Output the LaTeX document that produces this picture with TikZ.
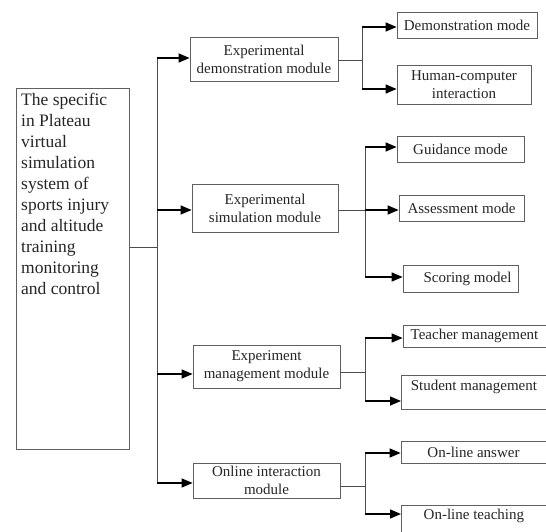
\documentclass[tikz,border=0pt]{standalone}
\usepackage{fontspec}
\setmainfont{Liberation Serif}
\usetikzlibrary{arrows.meta}
\begin{document}
\begin{tikzpicture}[x=1pt,y=-1pt,
  box/.style={draw=gray!75!black, line width=0.8pt, inner sep=0pt, align=center,
              font=\fontsize{15}{18}\selectfont, text=black!85},
  link/.style={draw=black!70, line width=0.9pt},
  arr/.style={draw=black, line width=1.5pt, -{Triangle[length=11pt,width=9pt]}}]
\useasboundingbox (0,0) rectangle (546,532);
\fill[white] (0,0) rectangle (546,532);

% root
\node[box, minimum width=113pt, minimum height=361pt, anchor=north west] (root) at (16,88) {};
\node[anchor=north west, inner sep=0pt, align=left, font=\fontsize{17.5}{21}\selectfont, text=black!85] (roottext) at (21,93)
  {The specific\\in Plateau\\virtual\\simulation\\system of\\sports injury\\and altitude\\training\\monitoring\\and control};

% modules
\node[box, minimum width=148pt, minimum height=44pt] (m1) at (264,59) {Experimental\\demonstration module};
\node[box, minimum width=146pt, minimum height=48pt] (m2) at (265,208) {Experimental\\simulation module};
\node[box, minimum width=147pt, minimum height=43pt] (m3) at (266.5,366.5) {Experiment\\management module};
\node[box, minimum width=147pt, minimum height=35pt] (m4) at (266.5,480.5) {Online interaction\\module};

% children
\node[box, minimum width=140pt, minimum height=26pt] (c1) at (467,25) {Demonstration mode};
\node[box, minimum width=134pt, minimum height=39pt] (c2) at (464,84.5) {Human-computer\\interaction};
\node[box, minimum width=127pt, minimum height=26pt] (c3) at (460.5,149) {Guidance mode};
\node[box, minimum width=125pt, minimum height=26pt] (c4) at (461.5,208) {Assessment mode};
\node[box, minimum width=115pt, minimum height=27pt] (c5) at (460.5,278.5) {\hspace*{14pt}Scoring model};
\node[box, minimum width=143pt, minimum height=22pt] (c6) at (474.5,336) {Teacher management};
\node[box, minimum width=145pt, minimum height=34pt, text height=15pt, text depth=19pt, anchor=north west] (c7) at (401,375) {Student management};
\node[box, minimum width=145pt, minimum height=22pt] (c8) at (473.5,452) {On-line answer};
\node[box, minimum width=145pt, minimum height=40pt, text height=14pt, text depth=26pt, anchor=north west] (c9) at (401,505) {On-line teaching};

% main trunk
\coordinate (j0) at (157,247);
\coordinate (t1) at (157,58);
\coordinate (t2) at (157,210);
\coordinate (t3) at (157,374);
\coordinate (t4) at (157,483);
\draw[link] (root.east |- j0) -- (j0);
\draw[link] (t1) -- (t4);
\draw[arr] (t1) -- (t1 -| m1.west);
\draw[arr] (t2) -- (t2 -| m2.west);
\draw[arr] (t3) -- (t3 -| m3.west);
\draw[arr] (t4) -- (t4 -| m4.west);

% branch 1
\coordinate (b1) at (362,60);
\coordinate (b1a) at (362,27);
\coordinate (b1b) at (362,89);
\draw[link] (m1.east |- b1) -- (b1);
\draw[link] (b1a) -- (b1b);
\draw[arr] (b1a) -- (b1a -| c1.west);
\draw[arr] (b1b) -- (b1b -| c2.west);

% branch 2
\coordinate (b2) at (365,210);
\coordinate (b2a) at (365,147);
\coordinate (b2c) at (365,277);
\draw[link] (m2.east |- b2) -- (b2);
\draw[link] (b2a) -- (b2c);
\draw[arr] (b2a) -- (b2a -| c3.west);
\draw[arr] (b2) -- (b2 -| c4.west);
\draw[arr] (b2c) -- (b2c -| c5.west);

% branch 3
\coordinate (b3) at (365,372);
\coordinate (b3a) at (365,338);
\coordinate (b3b) at (365,401);
\draw[link] (m3.east |- b3) -- (b3);
\draw[link] (b3a) -- (b3b);
\draw[arr] (b3a) -- (b3a -| c6.west);
\draw[arr] (b3b) -- (b3b -| c7.west);

% branch 4
\coordinate (b4) at (365,486);
\coordinate (b4a) at (365,453);
\coordinate (b4b) at (365,514);
\draw[link] (m4.east |- b4) -- (b4);
\draw[link] (b4a) -- (b4b);
\draw[arr] (b4a) -- (b4a -| c8.west);
\draw[arr] (b4b) -- (b4b -| c9.west);
\end{tikzpicture}
\end{document}
